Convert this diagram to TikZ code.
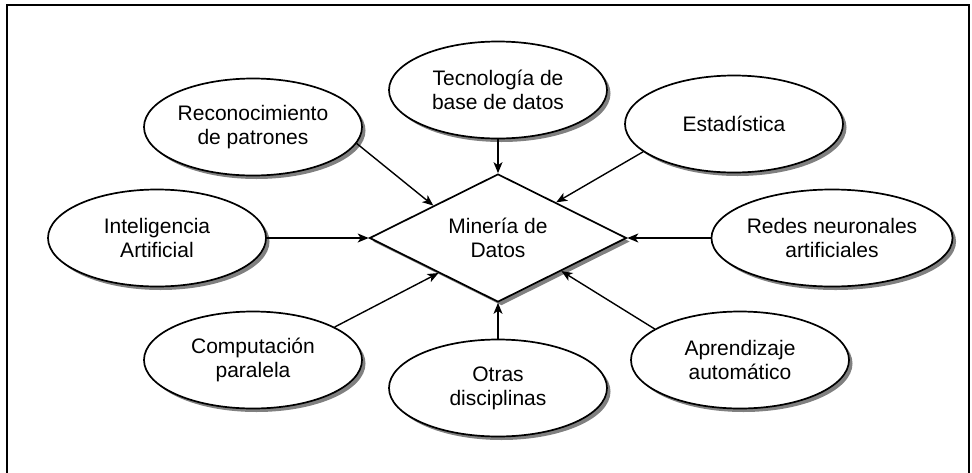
\documentclass[tikz,border=0pt]{standalone}
\usepackage{fontspec}
\setmainfont{Liberation Sans}
\usetikzlibrary{shapes.geometric,shadows,arrows.meta,calc}
\begin{document}
\begin{tikzpicture}[x=1pt,y=-1pt,
  shade3/.style={drop shadow={shadow xshift=3.5pt,shadow yshift=-3.5pt,fill=black!50,opacity=1}},
  disc/.style={ellipse,draw,line width=1.7pt,fill=white,minimum width=218pt,minimum height=97pt,
    inner sep=0pt,align=center,font=\fontsize{21}{24}\selectfont,shade3},
  core/.style={diamond,draw,line width=1.7pt,fill=white,aspect=2,minimum width=257pt,minimum height=128pt,
    inner sep=0pt,align=center,font=\fontsize{21}{24}\selectfont,shade3},
  feed/.style={line width=1.4pt,-{Stealth[length=11pt,width=9pt,inset=3pt]}}]
\useasboundingbox (0,0) rectangle (972,472);
\draw[line width=2.4pt] (7,475) -- (7,5) -- (969,5) -- (969,475);

\node[core] (dm) at (498,238) {Minería de\\Datos};

\node[disc] (tecn) at (498,90) {Tecnología de\\base de datos};
\node[disc] (reco) at (253,127) {Reconocimiento\\de patrones};
\node[disc] (esta) at (734,124) {Estadística};
\node[disc] (inte) at (157,238) {Inteligencia\\Artificial};
\node[disc] (rede) at (832,238) {Redes neuronales\\artificiales};
\node[disc] (comp) at (253,360) {Computación\\paralela};
\node[disc] (otra) at (498,388) {Otras\\disciplinas};
\node[disc] (apre) at (740,360) {Aprendizaje\\automático};

\draw[feed] (tecn.south) -- (dm.north);
\draw[feed] (reco.-9) -- ($(dm.west)!0.5!(dm.north)$);
\draw[feed] (esta.197) -- ($(dm.north)!0.45!(dm.east)$);
\draw[feed] (inte.east) -- (dm.west);
\draw[feed] (rede.west) -- (dm.east);
\draw[feed] (comp.22) -- ($(dm.west)!0.54!(dm.south)$);
\draw[feed] (otra.north) -- (dm.south);
\draw[feed] (apre.160) -- ($(dm.south)!0.49!(dm.east)$);
\end{tikzpicture}
\end{document}
